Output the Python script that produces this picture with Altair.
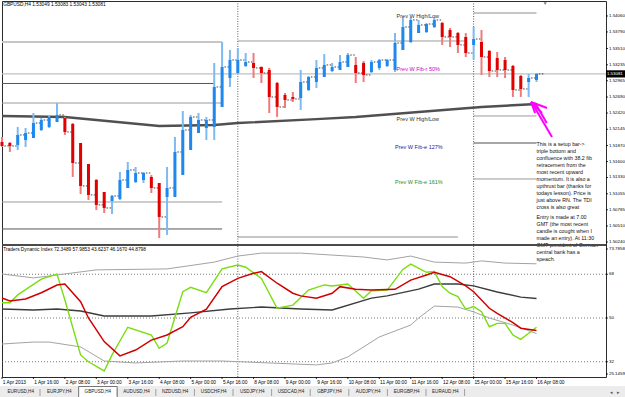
import altair as alt
import pandas as pd

# ---------------- price panel: GBPUSD H4 candles (bar index 0 = 1 Apr 2013 00:00) ----------------
opens = [1.51930, 1.51913, 1.51880, 1.51964, 1.51998, 1.52133, 1.52184, 1.52268, 1.52336, 1.52234,
         1.51913, 1.51558, 1.51288, 1.51085, 1.50933, 1.50967, 1.51153, 1.51254, 1.51288, 1.51339,
         1.51237, 1.51001, 1.51001, 1.51373, 1.51795, 1.52082, 1.52167, 1.52184, 1.52522, 1.53012,
         1.53096, 1.53215, 1.53265, 1.53198, 1.53147, 1.52927, 1.52725, 1.52691, 1.52674, 1.52809,
         1.52944, 1.53029, 1.53130, 1.53147, 1.53198, 1.53232, 1.53265, 1.53113, 1.53181, 1.53215,
         1.53147, 1.53485, 1.53620, 1.53772, 1.53789, 1.53874, 1.53941, 1.53823, 1.53772, 1.53705,
         1.53570, 1.53620, 1.53468, 1.53350, 1.53316, 1.53215, 1.53046, 1.52944, 1.52978]
highs = [1.52015, 1.51930, 1.52184, 1.52167, 1.52420, 1.52336, 1.52387, 1.52589, 1.52353, 1.52251,
         1.51913, 1.51558, 1.51305, 1.51085, 1.51035, 1.51423, 1.51592, 1.51508, 1.51423, 1.51373,
         1.51237, 1.51508, 1.52015, 1.52454, 1.52387, 1.52420, 1.52353, 1.53265, 1.53620, 1.53485,
         1.53519, 1.53434, 1.53434, 1.53208, 1.53181, 1.52944, 1.52758, 1.52775, 1.53147, 1.53046,
         1.53316, 1.53417, 1.53265, 1.53400, 1.53434, 1.53367, 1.53299, 1.53316, 1.53333, 1.53333,
         1.53772, 1.54037, 1.54037, 1.53992, 1.53941, 1.54037, 1.53958, 1.53857, 1.53789, 1.53772,
         1.53874, 1.53823, 1.53485, 1.53451, 1.53367, 1.53232, 1.53063, 1.53079, 1.53096]
lows = [1.51846, 1.51761, 1.51795, 1.51846, 1.51998, 1.52116, 1.52167, 1.52268, 1.52049, 1.51339,
        1.51051, 1.50950, 1.50781, 1.50730, 1.50713, 1.50950, 1.51153, 1.51237, 1.51237, 1.51068,
        1.50308, 1.50359, 1.51001, 1.51373, 1.51795, 1.52082, 1.51964, 1.51964, 1.52522, 1.52860,
        1.53096, 1.53198, 1.53012, 1.52927, 1.52420, 1.52353, 1.52505, 1.52606, 1.52471, 1.52792,
        1.52843, 1.53029, 1.53113, 1.53147, 1.53198, 1.52927, 1.52944, 1.53096, 1.53147, 1.53198,
        1.53113, 1.53485, 1.53603, 1.53772, 1.53772, 1.53857, 1.53570, 1.53536, 1.53434, 1.53367,
        1.53316, 1.53063, 1.53029, 1.53029, 1.53012, 1.52691, 1.52691, 1.52691, 1.52944]
closes = [1.51863, 1.51863, 1.52049, 1.52082, 1.52251, 1.52302, 1.52353, 1.52387, 1.52099, 1.51575,
          1.51187, 1.51035, 1.50866, 1.50815, 1.51018, 1.51288, 1.51457, 1.51406, 1.51406, 1.51153,
          1.50663, 1.51153, 1.51761, 1.52133, 1.52353, 1.52302, 1.52302, 1.52860, 1.53198, 1.53316,
          1.53316, 1.53282, 1.53181, 1.53096, 1.52691, 1.52522, 1.52640, 1.52657, 1.52944, 1.53029,
          1.53181, 1.53232, 1.53198, 1.53282, 1.53400, 1.53096, 1.53063, 1.53282, 1.53316, 1.53316,
          1.53603, 1.53874, 1.53992, 1.53908, 1.53924, 1.53992, 1.53705, 1.53705, 1.53570, 1.53434,
          1.53671, 1.53367, 1.53130, 1.53147, 1.53147, 1.52809, 1.52826, 1.53012, 1.53081]

ma_bar = [0, 8, 12, 20, 27, 30, 40, 45, 61, 68]
ma_price = [1.52370, 1.52353, 1.52302, 1.52201, 1.52218, 1.52251, 1.52316, 1.52353, 1.52522, 1.52572]

level_from = [0, 0, 0, 0, 0, 30, 30, 60, 60, 60, 60]
level_to = [28, 27, 28, 28, 28, 59, 58, 68, 68, 68, 68]
level_price = [1.53620, 1.52919, 1.52589, 1.50916, 1.50460, 1.53637, 1.50325, 1.54110, 1.52370, 1.51913, 1.51305]
level_kind = ["light", "dark", "mid", "mid", "dark", "mid", "light", "light", "mid", "midthick", "mid"]

bid_price = 1.53081
week_starts = [30, 60]

price_ticks = [1.54060, 1.53790, 1.53510, 1.53235, 1.52965, 1.52690, 1.52420, 1.52145,
               1.51870, 1.51600, 1.51330, 1.51055, 1.50785, 1.50510, 1.50240]
date_bars = list(range(0, 69, 4))
date_labels = ["1 Apr 2013", "1 Apr 16:00", "2 Apr 08:00", "3 Apr 00:00", "3 Apr 16:00", "4 Apr 08:00",
               "5 Apr 00:00", "5 Apr 16:00", "8 Apr 08:00", "9 Apr 00:00", "9 Apr 16:00", "10 Apr 08:00",
               "11 Apr 00:00", "11 Apr 16:00", "12 Apr 08:00", "15 Apr 00:00", "15 Apr 16:00", "16 Apr 08:00"]

prevw_text = ["Prev W High/Low", "Prev W Fib-r 50%", "Prev W High/Low", "Prev W Fib-e 127%", "Prev W Fib-e 161%"]
prevw_bar = [50.2, 50.2, 50.2, 50.0, 50.0]
prevw_price = [1.54060, 1.53164, 1.52319, 1.51846, 1.51254]
prevw_kind = ["hl", "fibr", "hl", "fibe1", "fibe2"]

note_blocks = [
    "This is a setup bar->\ntriple bottom and\nconfluence with 38.2 fib\nretracement from the\nmost recent upward\n"
    "momentum. It is also a\nupthrust bar (thanks for\ntodays lesson). Price is\njust above RN. The TDI\ncross is also great",
    "Entry is made at 7.00\nGMT (the most recent\ncandle is cought when I\nmade an entry). At 11:30\n"
    "GMT president of German\ncentral bank has a\nspeach.",
]
note_bar = [68.0, 68.0]
note_price = [1.51930, 1.50697]

arrow_from_bar = [67.3, 67.3, 67.3, 67.5, 67.9]
arrow_from_price = [1.52606, 1.52606, 1.52606, 1.52573, 1.52573]
arrow_to_bar = [69.34, 68.70, 67.81, 69.97, 69.3]
arrow_to_price = [1.52505, 1.52420, 1.52420, 1.52015, 1.52250]

# ---------------- TDI panel ----------------
tdi_levels = [68, 50, 32]
tdi_axis_values = [78.4, 68, 50, 32, 26.95]
tdi_axis_text = ["73.7858", "68", "50", "32", "25.1459"]
up_bar = [0, 4, 6, 12, 21, 27, 30, 33, 36, 38, 42, 46, 49, 52, 55, 59, 61, 64, 68]
up_val = [68.1, 66.5, 67.3, 69.8, 70.2, 73.0, 75.5, 76.7, 76.7, 76.7, 75.9, 75.1, 73.9, 75.5, 73.0, 72.6, 73.5, 72.6, 72.3]
mid_bar = [0, 4, 7, 10, 13, 19, 24, 29, 33, 38, 42, 47, 49, 53, 55, 58, 60, 63, 66, 68]
mid_val = [53.7, 53.3, 53.7, 52.9, 50.8, 50.8, 52.1, 53.7, 54.5, 53.7, 53.3, 58.2, 59.1, 61.9, 64.0, 64.0, 63.2, 60.7, 58.6, 58.0]
lo_bar = [0, 4, 6, 10, 13, 17, 23, 28, 34, 40, 42, 44, 48, 52, 53, 55, 58, 60, 62, 65, 68]
lo_val = [39.3, 40.1, 40.1, 38.1, 32.3, 31.5, 32.3, 32.3, 31.5, 30.7, 31.5, 34.0, 42.2, 47.1, 50.0, 54.9, 54.5, 52.5, 50.0, 47.1, 43.6]
rsi_bar = [0, 1, 2, 5, 7, 8, 10, 11, 13, 14, 16, 19, 20, 21, 23, 24, 26, 28, 30, 31, 33, 35, 37, 39, 41, 42, 44, 46, 47, 49,
           51, 52, 54, 55, 56, 57, 58, 59, 60, 61, 62, 63, 64, 65, 66, 67, 68]
rsi_val = [56.3, 56.3, 59.5, 66.0, 68.1, 57.4, 34.8, 32.0, 28.2, 34.8, 46.2, 43.0, 37.5, 39.7, 60.8, 62.6, 60.4, 70.2, 71.8, 70.9,
           66.3, 54.0, 55.3, 61.5, 63.6, 63.2, 64.0, 58.1, 61.2, 61.5, 70.0, 72.2, 68.8, 69.1, 62.9, 60.2, 58.8, 53.6, 54.7, 52.6,
           46.4, 47.8, 47.8, 43.0, 41.2, 43.7, 46.2]
sig_bar = [0, 1, 3, 5, 7, 8, 10, 11, 13, 15, 17, 19, 21, 23, 24, 26, 28, 30, 32, 33,
           35, 37, 38, 40, 42, 43, 45, 47, 50, 52, 54, 55, 57, 59, 60, 62, 63, 65, 66, 68]
sig_val = [58.2, 57.0, 57.8, 60.4, 63.6, 64.0, 56.7, 50.0, 40.3, 34.4, 36.8, 40.9, 43.0, 46.4, 50.3, 53.6, 62.9, 66.3, 68.4, 69.1,
           64.3, 60.2, 59.1, 58.1, 60.2, 62.9, 61.8, 61.5, 61.8, 65.6, 67.7, 68.8, 67.0, 63.2, 60.8, 54.0, 51.9, 48.1, 45.8, 44.9]

tab_names = ["EURUSD,H4", "EURJPY,H4", "GBPUSD,H4", "AUDUSD,H4", "NZDUSD,H4", "USDCHF,H4",
             "USDJPY,H4", "USDCAD,H4", "GBPJPY,H4", "AUDJPY,H4", "EURGBP,H4", "EURAUD,H4"]
active_tab = "GBPUSD,H4"

# ---------------- layout / styles ----------------
W, H = 604, 376
X_DOM = [0, 76.84]
P_DOM = [1.50206, 1.54313]
P_RANGE = [243, 0]
T_DOM = [25.72, 79.63]
T_RANGE = [376, 245]
T_PX = (T_RANGE[0] - T_RANGE[1]) / (T_DOM[1] - T_DOM[0])   # pixels per TDI unit
P_PX = (P_RANGE[0] - P_RANGE[1]) / (P_DOM[1] - P_DOM[0])   # pixels per price unit
FONT = "Liberation Sans"
BLUE, BLUE_L = "#1E88F0", "#7DBAF2"
RED, RED_L = "#E00000", "#F07A7A"
KIND_STYLE = {"light": ("#C6C6C6", 2.0), "dark": ("#555555", 1.0), "mid": ("#9A9A9A", 1.0), "midthick": ("#A6A6A6", 2.0)}
LABEL_COLOR = {"hl": "#333333", "fibr": "#CC00CC", "fibe1": "#22229A", "fibe2": "#2E8B22"}
AXIS_LABEL_X = X_DOM[1] + 3.0 / 7.86     # label start, just right of the plot frame (in bar units)


def xq(field):
    return alt.X(field, type="quantitative", scale=alt.Scale(domain=X_DOM, nice=False, zero=False), axis=None)


def py(field):
    return alt.Y(field, type="quantitative",
                 scale=alt.Scale(domain=P_DOM, range=P_RANGE, nice=False, zero=False), axis=None)


def ty(field):
    return alt.Y(field, type="quantitative",
                 scale=alt.Scale(domain=T_DOM, range=T_RANGE, nice=False, zero=False), axis=None)


# ---------------- tables ----------------
cdf = pd.DataFrame({"i": list(range(len(opens))), "o": opens, "h": highs, "l": lows, "c": closes})
up = cdf["c"] >= cdf["o"]
cdf["wick_col"] = [BLUE_L if u else RED_L for u in up]
cdf["body_col"] = [BLUE if u else RED for u in up]
cdf["d0"] = cdf["i"] + 0.3
cdf["d1"] = cdf["i"] + 0.95

lvl = pd.DataFrame({"x0": level_from, "x1": level_to, "p": level_price,
                    "col": [KIND_STYLE[k][0] for k in level_kind], "w": [KIND_STYLE[k][1] for k in level_kind]})
bid = pd.DataFrame({"x0": [X_DOM[0]], "x1": [X_DOM[1]], "p": [bid_price], "txt": [f"{bid_price:.5f}"]})
bid["bx0"] = X_DOM[1]
bid["bx1"] = X_DOM[1] + 2.5
bid["ptop"] = bid["p"] + 3.6 / P_PX
bid["pbot"] = bid["p"] - 3.6 / P_PX
bid["tx"] = X_DOM[1] + 0.12
wk = pd.DataFrame({"i": week_starts})
ma = pd.DataFrame({"i": ma_bar, "p": ma_price})
pw = pd.DataFrame({"i": prevw_bar, "p": prevw_price, "t": prevw_text, "col": [LABEL_COLOR[k] for k in prevw_kind]})
notes = pd.DataFrame({"i": note_bar, "p": note_price, "t": note_blocks})
arr = pd.DataFrame({"x0": arrow_from_bar, "p0": arrow_from_price, "x1": arrow_to_bar, "p1": arrow_to_price})
tl = pd.DataFrame({"v": tdi_levels, "x0": X_DOM[0], "x1": X_DOM[1]})

# axis label tables (right price axis, right TDI axis, bottom time axis)
pax = pd.DataFrame({"p": price_ticks, "t": [f"{v:.5f}" for v in price_ticks]})
pax["x0"] = X_DOM[1]
pax["x1"] = X_DOM[1] + 2.0 / 7.86
pax["lx"] = AXIS_LABEL_X
tax = pd.DataFrame({"v": tdi_axis_values, "t": tdi_axis_text})
tax["x0"] = X_DOM[1]
tax["x1"] = X_DOM[1] + 2.0 / 7.86
tax["lx"] = AXIS_LABEL_X
xax = pd.DataFrame({"i": date_bars, "t": date_labels})
xax["v0"] = T_DOM[0]
xax["v1"] = T_DOM[0] - 2.0 / T_PX
xax["lv"] = T_DOM[0] - 5.6 / T_PX
xax["li"] = xax["i"] + 0.1

series = []
for name, bs, vs, col, w in [("up", up_bar, up_val, "#A3A3A3", 1.0), ("lo", lo_bar, lo_val, "#A3A3A3", 1.0),
                             ("mid", mid_bar, mid_val, "#3C3C3C", 1.4), ("rsi", rsi_bar, rsi_val, "#7ADD10", 1.4),
                             ("sig", sig_bar, sig_val, "#D00000", 1.5)]:
    series.append(pd.DataFrame({"s": name, "i": bs, "v": vs, "col": col, "w": w}))
tdi = pd.concat(series, ignore_index=True)

hdr_p = pd.DataFrame({"i": [0.15], "p": [1.54237], "t": ["GBPUSD,H4  1.53049 1.53083 1.53043 1.53081"]})
hdr_t = pd.DataFrame({"i": [0.15], "v": [78.0], "t": ["Traders Dynamic Index 72.3489 57.9853 43.6237 46.1670 44.8798"]})
shift_mark = pd.DataFrame({"i": [69.1], "p": [1.54270]})

# tab bar (window chrome below the chart), positions from slot index
tabs = pd.DataFrame({"name": tab_names, "k": list(range(len(tab_names)))})
tabs["cx"] = 18.7 + 38.6 * tabs["k"]
tabs["sx"] = 38.0 + 38.6 * tabs["k"]
tabs["y"] = 391.0
tabs["y0"] = 388.0
tabs["y1"] = 395.0
act = tabs[tabs["name"] == active_tab].copy()
act["ax0"] = act["sx"] - 38.6
act["ax1"] = act["sx"]
act["ay0"] = 385.5
act["ay1"] = 397.0
tabbar = pd.DataFrame({"x0": [-2.0], "x1": [623.0], "y0": [385.0], "y1": [397.0]})
scroll = pd.DataFrame({"x": [609.0, 616.0], "y": [391.0, 391.0], "t": ["\u25c2", "\u25b8"]})

# ---------------- layers ----------------
layers = []

layers.append(alt.Chart(lvl).mark_rule().encode(
    x=xq("x0"), x2=alt.X2("x1"), y=py("p"),
    color=alt.Color("col:N", scale=None), strokeWidth=alt.StrokeWidth("w:Q", scale=None)))
layers.append(alt.Chart(bid).mark_rule(color="#C0C0C0", strokeWidth=1.2).encode(
    x=xq("x0"), x2=alt.X2("x1"), y=py("p")))
layers.append(alt.Chart(tl).mark_rule(color="#555555", strokeWidth=0.8, strokeDash=[1, 2]).encode(
    x=xq("x0"), x2=alt.X2("x1"), y=ty("v")))
layers.append(alt.Chart(wk).mark_rule(color="#333333", strokeWidth=0.8, strokeDash=[1, 1.5]).encode(
    x=xq("i"), y=alt.value(0), y2=alt.value(H)))
layers.append(alt.Chart(ma).mark_line(color="#505050", strokeWidth=2.4).encode(x=xq("i"), y=py("p")))
# candles
layers.append(alt.Chart(cdf).mark_rule(strokeDash=[1.5, 1.5], color="#444444", strokeWidth=1).encode(
    x=xq("d0"), x2=alt.X2("d1"), y=py("c")))
layers.append(alt.Chart(cdf).mark_rule(strokeWidth=2).encode(
    x=xq("i"), y=py("l"), y2=alt.Y2("h"), color=alt.Color("wick_col:N", scale=None)))
layers.append(alt.Chart(cdf).mark_rule(strokeWidth=3).encode(
    x=xq("i"), y=py("o"), y2=alt.Y2("c"), color=alt.Color("body_col:N", scale=None)))
# labels and notes
layers.append(alt.Chart(pw).mark_text(align="left", baseline="middle", fontSize=5.5, font=FONT).encode(
    x=xq("i"), y=py("p"), text="t:N", color=alt.Color("col:N", scale=None)))
layers.append(alt.Chart(notes).mark_text(align="left", baseline="top", fontSize=5.3, font=FONT, lineBreak="\n",
                                         lineHeight=7, color="#111111").encode(
    x=xq("i"), y=py("p"), text="t:N"))
layers.append(alt.Chart(arr).mark_rule(color="#FF00FF", strokeWidth=2).encode(
    x=xq("x0"), x2=alt.X2("x1"), y=py("p0"), y2=alt.Y2("p1")))
layers.append(alt.Chart(hdr_p).mark_text(align="left", baseline="middle", fontSize=4.8, font=FONT, color="#000").encode(
    x=xq("i"), y=py("p"), text="t:N"))
layers.append(alt.Chart(shift_mark).mark_point(shape="triangle-down", filled=True, size=10, color="#444444").encode(
    x=xq("i"), y=py("p")))
# price axis (right)
layers.append(alt.Chart(pax).mark_rule(color="#000", strokeWidth=0.8).encode(
    x=xq("x0"), x2=alt.X2("x1"), y=py("p")))
layers.append(alt.Chart(pax).mark_text(align="left", baseline="middle", fontSize=4.4, font=FONT, color="#000").encode(
    x=xq("lx"), y=py("p"), text="t:N"))
# bid box
layers.append(alt.Chart(bid).mark_rect(color="#000000").encode(
    x=xq("bx0"), x2=alt.X2("bx1"), y=py("ptop"), y2=alt.Y2("pbot")))
layers.append(alt.Chart(bid).mark_text(align="left", baseline="middle", fontSize=4.4, font=FONT, color="#FFFFFF").encode(
    x=xq("tx"), y=py("p"), text="txt:N"))
# TDI
layers.append(alt.Chart(tdi).mark_line().encode(
    x=xq("i"), y=ty("v"), detail="s:N", order="i:Q",
    color=alt.Color("col:N", scale=None), strokeWidth=alt.StrokeWidth("w:Q", scale=None)))
layers.append(alt.Chart(hdr_t).mark_text(align="left", baseline="middle", fontSize=4.8, font=FONT, color="#000").encode(
    x=xq("i"), y=ty("v"), text="t:N"))
layers.append(alt.Chart(tax).mark_rule(color="#000", strokeWidth=0.8).encode(
    x=xq("x0"), x2=alt.X2("x1"), y=ty("v")))
layers.append(alt.Chart(tax).mark_text(align="left", baseline="middle", fontSize=4.4, font=FONT, color="#000").encode(
    x=xq("lx"), y=ty("v"), text="t:N"))
# time axis (bottom)
layers.append(alt.Chart(xax).mark_rule(color="#000", strokeWidth=0.8).encode(
    x=xq("i"), y=ty("v0"), y2=alt.Y2("v1")))
layers.append(alt.Chart(xax).mark_text(align="left", baseline="middle", fontSize=4.8, font=FONT, color="#000").encode(
    x=xq("li"), y=ty("lv"), text="t:N"))
# panel separator
layers.append(alt.Chart(tl).mark_rule(color="#4A4A4A", strokeWidth=2.2).encode(
    x=alt.value(0), x2=alt.value(W), y=alt.value(244)))
# tab bar
layers.append(alt.Chart(tabbar).mark_rect(color="#ECECEC").encode(
    x=alt.X("x0:Q", scale=None, axis=None), x2="x1:Q", y=alt.Y("y0:Q", scale=None, axis=None), y2="y1:Q"))
layers.append(alt.Chart(act).mark_rect(color="#FFFFFF", stroke="#555555", strokeWidth=0.8).encode(
    x=alt.X("ax0:Q", scale=None, axis=None), x2="ax1:Q", y=alt.Y("ay0:Q", scale=None, axis=None), y2="ay1:Q"))
layers.append(alt.Chart(tabs).mark_rule(color="#8A8A8A", strokeWidth=0.8).encode(
    x=alt.X("sx:Q", scale=None, axis=None), y=alt.Y("y0:Q", scale=None, axis=None), y2="y1:Q"))
layers.append(alt.Chart(tabs).mark_text(align="center", baseline="middle", fontSize=4.6, font=FONT, color="#222").encode(
    x=alt.X("cx:Q", scale=None, axis=None), y=alt.Y("y:Q", scale=None, axis=None), text="name:N"))
layers.append(alt.Chart(scroll).mark_text(align="center", baseline="middle", fontSize=5, color="#555").encode(
    x=alt.X("x:Q", scale=None, axis=None), y=alt.Y("y:Q", scale=None, axis=None), text="t:N"))

chart = (
    alt.layer(*layers)
    .resolve_scale(y="independent")
    .properties(width=W, height=H, padding={"left": 2, "top": 1, "right": 19, "bottom": 20},
                autosize=alt.AutoSizeParams(type="none"), background="white")
    .configure_view(stroke="#2B2B2B", strokeWidth=1)
)

chart.save("out.html", embed_options={"renderer": "svg", "actions": False})
